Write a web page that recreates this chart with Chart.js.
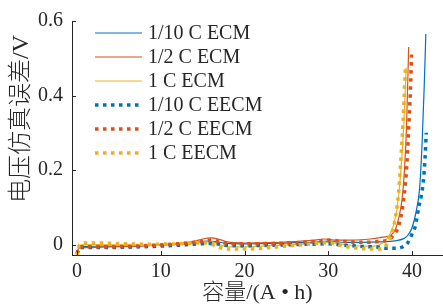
<!DOCTYPE html>
<html>
<head>
<meta charset="utf-8">
<script src="https://cdn.jsdelivr.net/npm/chart.js@4/dist/chart.umd.min.js"></script>
<style>
  html, body { margin: 0; padding: 0; background: #ffffff; }
  canvas { display: block; }
</style>
</head>
<body>
<canvas id="c" width="443" height="308"></canvas>
<script>
// ---- data ----
const seriesNames = ["1/10 C ECM", "1/2 C ECM", "1 C ECM", "1/10 C EECM", "1/2 C EECM", "1 C EECM"];

const capBlueECM = [0, 0.3, 1, 3, 6, 9, 12, 14, 15.5, 16.5, 18, 20, 23, 26, 28, 30, 32, 34, 36, 38, 39, 39.5, 40, 40.5, 40.9, 41.2, 41.45, 41.65];
const errBlueECM = [-0.022, -0.006, -0.005, -0.004, -0.004, -0.002, 0.001, 0.005, 0.009, 0.008, 0.003, 0.002, 0.003, 0.005, 0.006, 0.009, 0.006, 0.006, 0.007, 0.01, 0.016, 0.025, 0.045, 0.09, 0.15, 0.27, 0.42, 0.565];

const capRedECM = [0, 0.3, 1, 3, 6, 9, 12, 14, 15, 16, 17, 18, 20, 23, 26, 28, 29.5, 31, 33, 35, 36.5, 37.5, 38, 38.4, 38.8, 39.1, 39.35, 39.6];
const errRedECM = [-0.022, -0.008, -0.008, -0.007, -0.005, -0.002, 0.003, 0.009, 0.015, 0.018, 0.014, 0.007, 0.004, 0.005, 0.008, 0.011, 0.015, 0.012, 0.012, 0.015, 0.02, 0.026, 0.04, 0.07, 0.12, 0.2, 0.32, 0.53];

const capYelECM = [0, 0.3, 1, 3, 6, 9, 12, 14, 16, 17, 18, 20, 23, 26, 28, 30, 32, 34, 35.5, 36.5, 37.3, 37.9, 38.4, 38.8, 39.1, 39.3];
const errYelECM = [-0.022, -0.002, 0.0, 0.0, -0.001, -0.002, 0.002, 0.005, 0.008, 0.0, -0.006, -0.006, -0.003, 0.0, 0.003, 0.006, 0.0, -0.004, -0.004, 0.005, 0.025, 0.06, 0.13, 0.24, 0.36, 0.475];

const capBlueEECM = [0, 0.3, 1, 3, 6, 9, 12, 14, 16, 18, 20, 23, 26, 28, 30, 32, 34, 36, 37, 38, 39, 39.5, 40, 40.4, 40.8, 41.1, 41.35, 41.55, 41.7];
const errBlueEECM = [-0.025, -0.008, -0.008, -0.008, -0.007, -0.005, -0.002, 0.001, 0.003, -0.002, -0.003, -0.002, 0.0, 0.001, 0.002, -0.002, -0.005, -0.007, -0.01, -0.01, -0.005, 0.005, 0.028, 0.05, 0.1, 0.13, 0.17, 0.23, 0.30];

const capRedEECM = [0, 0.3, 1, 3, 6, 9, 12, 14, 16, 17, 18, 20, 23, 26, 28, 30, 32, 34, 36, 37, 37.8, 38.4, 38.8, 39.1, 39.4, 39.6, 39.8, 39.95];
const errRedEECM = [-0.025, -0.006, -0.006, -0.006, -0.005, -0.002, 0.002, 0.006, 0.012, 0.008, 0.003, 0.002, 0.003, 0.005, 0.008, 0.012, 0.008, 0.006, 0.008, 0.012, 0.025, 0.05, 0.09, 0.14, 0.22, 0.31, 0.41, 0.51];

const capYelEECM = [0, 0.3, 1, 3, 6, 9, 12, 14, 15.5, 17, 18, 20, 23, 26, 28, 30, 32, 34, 36, 36.8, 37.5, 38, 38.4, 38.7, 39.0, 39.2];
const errYelEECM = [-0.03, 0.0, 0.004, 0.004, 0.002, 0.001, 0.002, 0.004, 0.004, -0.008, -0.012, -0.012, -0.008, -0.002, 0.002, 0.005, -0.005, -0.011, -0.012, -0.005, 0.025, 0.07, 0.14, 0.24, 0.36, 0.47];

const xTicks = [0, 10, 20, 30, 40];
const yTicks = [0, 0.2, 0.4, 0.6];
const xTitle = "容量/(A • h)";
const yTitle = "电压仿真误差/V";

// ---- styling ----
const BLUE = "#0072BD", RED = "#D95319", YEL = "#EDB120", AX = "#262626";
const SERIF = '"Liberation Serif", "Times New Roman", "Noto Sans CJK SC", serif';

function pts(xs, ys) { return xs.map((x, i) => ({ x: x, y: ys[i] })); }

const caps = [capBlueECM, capRedECM, capYelECM, capBlueEECM, capRedEECM, capYelEECM];
const errs = [errBlueECM, errRedECM, errYelECM, errBlueEECM, errRedEECM, errYelEECM];
const colors = [BLUE, RED, YEL, BLUE, RED, YEL];

const datasets = seriesNames.map((name, i) => {
  const dotted = i >= 3;
  return {
    label: name,
    data: pts(caps[i], errs[i]),
    borderColor: colors[i],
    backgroundColor: colors[i],
    borderWidth: dotted ? 3.5 : 1.2,
    borderDash: dotted ? [3.5, 4.5] : [],
    pointRadius: 0,
    fill: false,
    cubicInterpolationMode: "monotone",
    order: 5 - i
  };
});

const insideTicks = {
  id: "insideTicks",
  afterDraw(chart) {
    const { ctx, chartArea: a, scales: { x, y } } = chart;
    ctx.save();
    ctx.strokeStyle = AX;
    ctx.lineWidth = 1;
    ctx.beginPath();
    xTicks.forEach(v => {
      const px = Math.round(x.getPixelForValue(v)) + 0.5;
      ctx.moveTo(px, a.bottom);
      ctx.lineTo(px, a.bottom - 4);
    });
    yTicks.forEach(v => {
      const py = Math.round(y.getPixelForValue(v)) + 0.5;
      ctx.moveTo(a.left, py);
      ctx.lineTo(a.left + 4, py);
    });
    ctx.stroke();
    ctx.restore();
  }
};

const yTitlePlugin = {
  id: "yTitlePlugin",
  afterDraw(chart) {
    const ctx = chart.ctx;
    ctx.save();
    ctx.translate(22, 119);
    ctx.rotate(-Math.PI / 2);
    ctx.textAlign = "center";
    ctx.textBaseline = "middle";
    ctx.fillStyle = AX;
    ctx.font = "300 24px " + SERIF;
    ctx.fillText(yTitle, 0, 0);
    ctx.restore();
  }
};

const legendPlugin = {
  id: "legendPlugin",
  afterDatasetsDraw(chart) {
    const ctx = chart.ctx;
    ctx.save();
    chart.data.datasets.forEach((ds, i) => {
      const yy = 33 + i * 24;
      ctx.beginPath();
      ctx.strokeStyle = ds.borderColor;
      ctx.lineWidth = ds.borderWidth;
      ctx.setLineDash(ds.borderDash);
      ctx.moveTo(95, yy);
      ctx.lineTo(142, yy);
      ctx.stroke();
      ctx.setLineDash([]);
      ctx.fillStyle = AX;
      ctx.font = "20px " + SERIF;
      ctx.textAlign = "left";
      ctx.textBaseline = "middle";
      ctx.fillText(ds.label, 148, yy + 1);
    });
    ctx.restore();
  }
};

new Chart(document.getElementById("c"), {
  type: "line",
  data: { datasets: datasets },
  options: {
    responsive: false,
    devicePixelRatio: 1,
    animation: false,
    events: [],
    layout: { padding: { top: 18, right: 0, left: 0, bottom: 0 } },
    plugins: { legend: { display: false }, tooltip: { enabled: false } },
    scales: {
      x: {
        type: "linear",
        position: "bottom",
        min: -0.6,
        max: 43.7,
        afterBuildTicks: s => { s.ticks = xTicks.map(v => ({ value: v })); },
        afterFit: s => { s.height = 53; },
        grid: { display: true, drawOnChartArea: false, drawTicks: false },
        border: { display: true, color: AX, width: 1 },
        ticks: { color: AX, font: { family: SERIF, size: 20 }, padding: 5, maxRotation: 0, autoSkip: false },
        title: { display: true, text: xTitle, color: AX, font: { family: SERIF, size: 22, weight: 300 }, padding: { top: 0, bottom: 2 } }
      },
      y: {
        type: "linear",
        position: "left",
        min: -0.028,
        max: 0.6,
        afterBuildTicks: s => { s.ticks = yTicks.map(v => ({ value: v })); },
        afterFit: s => { s.width = 72; },
        grid: { display: true, drawOnChartArea: false, drawTicks: false },
        border: { display: true, color: AX, width: 1 },
        ticks: { color: AX, font: { family: SERIF, size: 20 }, padding: 9, callback: v => String(v) }
      }
    }
  },
  plugins: [insideTicks, yTitlePlugin, legendPlugin]
});
</script>
</body>
</html>
